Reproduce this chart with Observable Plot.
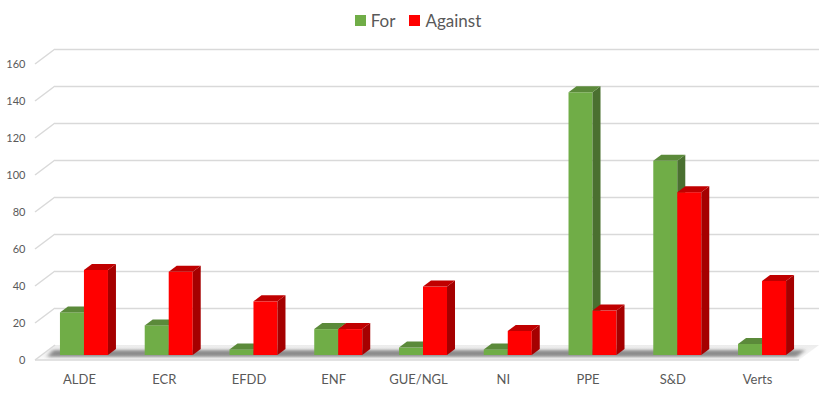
<!DOCTYPE html>
<html>
<head>
<meta charset="utf-8">
<script src="https://cdn.jsdelivr.net/npm/d3@7"></script>
<script src="https://cdn.jsdelivr.net/npm/@observablehq/plot@0.6"></script>
<style>
  html, body { margin: 0; padding: 0; background: #fff; }
  body { width: 831px; height: 399px; overflow: hidden; font-family: Lato, "Open Sans", sans-serif; }
  #legend { height: 40px; display: flex; justify-content: center; align-items: center; gap: 0; font-size: 17px; color: #595959; padding-left: 5px; box-sizing: border-box; }
  #legend .sw { width: 11px; height: 11px; display: inline-block; margin-right: 5px; }
  #legend .item { display: flex; align-items: center; margin: 0 7px; }
</style>
</head>
<body>
<div id="legend"></div>
<div id="chart"></div>
<script>
const parties = ["ALDE", "ECR", "EFDD", "ENF", "GUE/NGL", "NI", "PPE", "S&D", "Verts"];
const forVotes = [23, 16, 3, 14, 4, 3, 142, 105, 6];
const againstVotes = [46, 45, 29, 14, 37, 13, 24, 88, 40];
const seriesNames = ["For", "Against"];
const yTicks = [0, 20, 40, 60, 80, 100, 120, 140, 160];

const colors = {
  For: {front: "#70AD47", side: "#4A7030", top: "#5B8A3A"},
  Against: {front: "#FF0000", side: "#A50000", top: "#C00000"}
};

const forRows = parties.map((p, i) => ({party: p, series: "For", value: forVotes[i]}));
const againstRows = parties.map((p, i) => ({party: p, series: "Against", value: againstVotes[i]}));

// legend
const legend = document.getElementById("legend");
for (const s of seriesNames) {
  const item = document.createElement("span");
  item.className = "item";
  item.innerHTML = `<span class="sw" style="background:${colors[s].front}"></span>${s}`;
  legend.appendChild(item);
}

const DEPTH_X = 8, DEPTH_Y = 6;      // bar depth
const WALL_X = 20, WALL_Y = 15;      // floor / wall depth
const BAR_SHIFT = 5;                 // bars sit 5px behind the front edge

function bw(scales) {
  const x = scales.x;
  if (x && typeof x.bandwidth === "function") return x.bandwidth();
  if (scales.scales && scales.scales.x && scales.scales.x.bandwidth) return scales.scales.x.bandwidth;
  return 24;
}

// floor + gridline diagonals
function floorMark(index, scales, values, dim) {
  const g = d3.create("svg:g");
  const y0 = scales.y(0);
  const left = dim.marginLeft;
  const right = dim.width - dim.marginRight + 28;
  const front = y0 + BAR_SHIFT;
  const back = front - WALL_Y;
  const defs = g.append("defs");
  const grad = defs.append("linearGradient").attr("id", "floorGrad").attr("x1", 0).attr("x2", 0).attr("y1", 0).attr("y2", 1);
  grad.append("stop").attr("offset", "0%").attr("stop-color", "#ececec");
  grad.append("stop").attr("offset", "100%").attr("stop-color", "#fafafa");
  defs.append("filter").attr("id", "blur").attr("x", "-5%").attr("y", "-100%").attr("width", "110%").attr("height", "300%")
    .append("feGaussianBlur").attr("stdDeviation", "2.2 1.6");
  g.append("path")
    .attr("d", `M${left - WALL_X},${front} L${left},${back} L${right},${back} L${right - WALL_X},${front} Z`)
    .attr("fill", "url(#floorGrad)");
  // bar shadow
  g.append("path")
    .attr("d", `M${left - 8},${y0 + 2} L${left - 2},${y0 - 5} L${right - 14},${y0 - 5} L${right - 22},${y0 + 2} Z`)
    .attr("fill", "#6a6a6a").attr("opacity", 0.75).attr("filter", "url(#blur)");
  g.append("line").attr("x1", left - WALL_X).attr("x2", right - WALL_X).attr("y1", front).attr("y2", front)
    .attr("stroke", "#d9d9d9").attr("stroke-width", 1.5);
  for (const t of yTicks) {
    const yf = scales.y(t) + BAR_SHIFT;
    g.append("line").attr("x1", left - WALL_X).attr("y1", yf).attr("x2", left).attr("y2", yf - WALL_Y)
      .attr("stroke", "#d9d9d9").attr("stroke-width", 1.5);
  }
  return g.node();
}

function depthMark(rows, series) {
  return (index, scales, values, dim) => {
    const g = d3.create("svg:g");
    const w = bw(scales);
    const off = series === "For" ? -w / 2 : w / 2;
    const y0 = scales.y(0);
    for (const r of rows) {
      const x0 = scales.x(r.party) + off;
      const x1 = x0 + w;
      const yt = scales.y(r.value);
      g.append("path")
        .attr("d", `M${x1},${y0} L${x1},${yt} L${x1 + DEPTH_X},${yt - DEPTH_Y} L${x1 + DEPTH_X},${y0 - DEPTH_Y} Z`)
        .attr("fill", colors[series].side);
      g.append("path")
        .attr("d", `M${x0},${yt} L${x1},${yt} L${x1 + DEPTH_X},${yt - DEPTH_Y} L${x0 + DEPTH_X},${yt - DEPTH_Y} Z`)
        .attr("fill", colors[series].top);
    }
    return g.node();
  };
}

const chart = Plot.plot({
  width: 831,
  height: 359,
  marginLeft: 55,
  marginRight: 40,
  marginTop: 19,
  marginBottom: 44,
  style: {fontFamily: "Lato, 'Open Sans', sans-serif", color: "#595959", background: "#fff"},
  x: {type: "band", domain: parties, paddingInner: 0.7168, paddingOuter: 0.2, round: false, label: null},
  y: {domain: [0, 160], label: null},
  marks: [
    floorMark,
    Plot.ruleY(yTicks.filter(t => t > 0), {y: d => d, dy: -(WALL_Y - BAR_SHIFT), insetLeft: 0, insetRight: -28, stroke: "#d9d9d9", strokeWidth: 1.5}),
    Plot.barY(forRows, {x: "party", y: "value", fill: colors.For.front, dx: -12}),
    depthMark(forRows, "For"),
    Plot.barY(againstRows, {x: "party", y: "value", fill: colors.Against.front, dx: 12}),
    depthMark(againstRows, "Against"),
    Plot.axisY({ticks: yTicks, tickSize: 0, tickPadding: 30, dy: BAR_SHIFT, fontSize: 11, label: null, fill: "#595959"}),
    Plot.axisX({tickSize: 0, tickPadding: 19, dx: -5, fontSize: 13, label: null, fill: "#595959"})
  ]
});
document.getElementById("chart").appendChild(chart);
</script>
</body>
</html>
